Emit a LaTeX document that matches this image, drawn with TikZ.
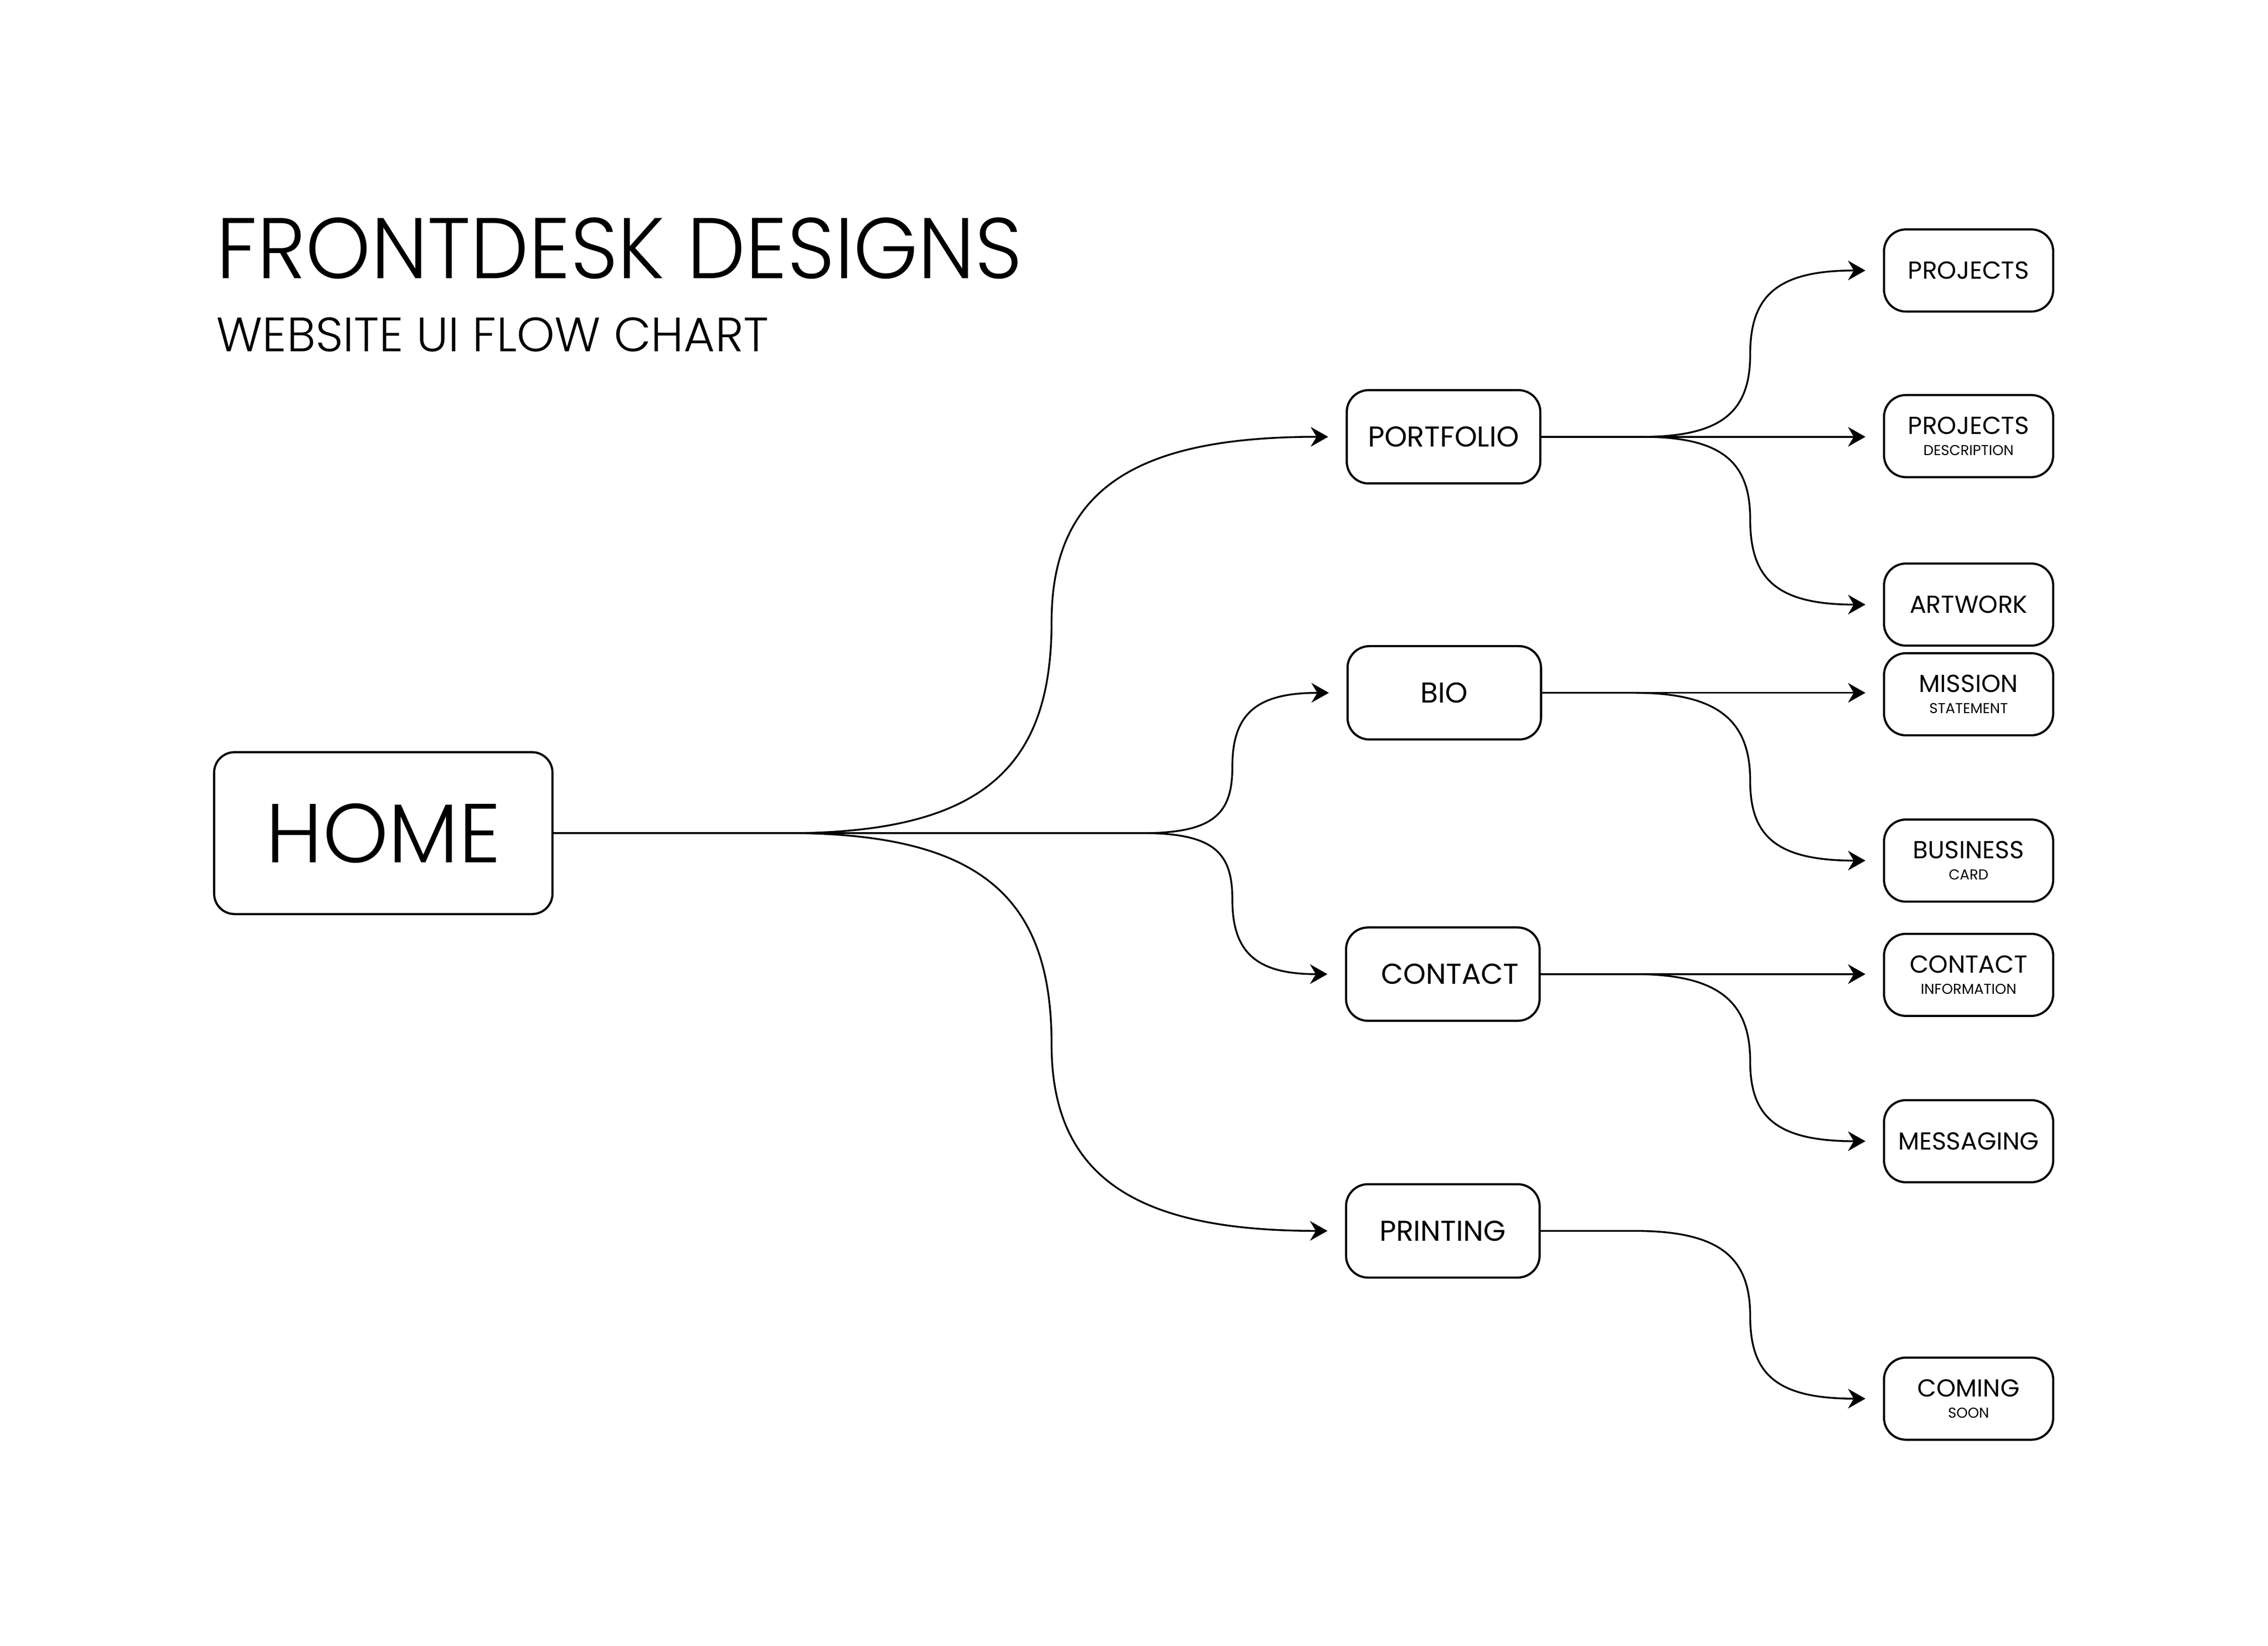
\documentclass[tikz,border=0pt]{standalone}
\usepackage{fontspec}
\setmainfont{Poppins}
\newfontfamily\thinfont{Poppins Light}
\newfontfamily\titlefont{Poppins Light}[FakeStretch=0.96]
\usepackage{tikz}
\usetikzlibrary{positioning,arrows.meta}
\newcommand{\smalltag}[1]{\\[-0.9pt]{\fontsize{2.8}{3}\selectfont #1}}

\begin{document}
\begin{tikzpicture}[
        x=0.009917cm, y=-0.009917cm,
        % Node styles
        homebox/.style={draw=black, line width=0.42pt, rounded corners=0.14cm, minimum width=2.32cm, minimum height=1.11cm, font=\thinfont\fontsize{16.3}{17}\selectfont},
        pagebox/.style={draw=black, line width=0.42pt, rounded corners=0.15cm, minimum width=1.327cm, minimum height=0.64cm, font=\fontsize{5.6}{6}\selectfont},
        leafbox/.style={draw=black, line width=0.42pt, rounded corners=0.15cm, minimum width=1.16cm, minimum height=0.563cm, inner sep=1pt, align=center, font=\fontsize{4.8}{5}\selectfont},
        link/.style={-{Stealth[length=0.12cm, width=0.135cm, inset=0.04cm]}, line width=0.35pt, shorten >=0.12cm}
    ]
    
    % Page frame
    \useasboundingbox (0,0) rectangle (1568,1138);
    
    % Title
    \node[anchor=base west, inner sep=0, font=\titlefont\fontsize{16.8}{18}\selectfont] (title) at (149,192.5) {FRONTDESK DESIGNS};
    \node[anchor=base west, inner sep=0, font=\thinfont\fontsize{9.4}{10}\selectfont] (subtitle) at (149,243) {WEBSITE UI FLOW CHART};
    
    % Home page
    \node[homebox] (home) at (265,576) {HOME\hspace{0.17cm}};
    
    % Main pages
    \node[pagebox] (portfolio) at (998,302) {PORTFOLIO};
    \node[pagebox] (bio) at (998.5,479) {BIO};
    \node[pagebox] (contact) at (997.5,673.5) {\hspace{0.1cm}CONTACT};
    \node[pagebox] (printing) at (997.5,851) {PRINTING};
    
    % Sub pages
    \node[leafbox] (projects) at (1361,187) {PROJECTS};
    \node[leafbox] (description) at (1361,301.5) {PROJECTS\smalltag{DESCRIPTION}};
    \node[leafbox] (artwork) at (1361,418) {ARTWORK};
    \node[leafbox] (mission) at (1361,480) {MISSION\smalltag{STATEMENT}};
    \node[leafbox] (business) at (1361,595) {BUSINESS\smalltag{CARD}};
    \node[leafbox] (information) at (1361,674) {CONTACT\smalltag{INFORMATION}};
    \node[leafbox] (messaging) at (1361,789) {MESSAGING};
    \node[leafbox] (coming) at (1361,967) {COMING\smalltag{SOON}};
    
    % Home to main pages
    \draw[link] (home.east) -- (545,576) .. controls (680,576) and (727,530) .. (727,430) .. controls (727,335) and (790,302) .. (portfolio.west);
    \draw[link] (home.east) -- (790,576) .. controls (840,576) and (852,562) .. (852,530) .. controls (852,494) and (868,479) .. (bio.west);
    \draw[link] (home.east) -- (790,576) .. controls (840,576) and (852,590) .. (852,622) .. controls (852,658) and (868,673.5) .. (contact.west);
    \draw[link] (home.east) -- (545,576) .. controls (680,576) and (727,622) .. (727,722) .. controls (727,817) and (790,851) .. (printing.west);
    
    % Portfolio
    \draw[link] (portfolio.east) -- (1135,302) .. controls (1190,302) and (1210,285) .. (1210,245) .. controls (1210,205) and (1228,187) .. (projects.west);
    \draw[link] (portfolio.east) -- (description.west |- portfolio.east);
    \draw[link] (portfolio.east) -- (1135,302) .. controls (1190,302) and (1210,319) .. (1210,359) .. controls (1210,400) and (1228,418) .. (artwork.west);
    
    % Bio
    \draw[link] (bio.east) -- (mission.west |- bio.east);
    \draw[link] (bio.east) -- (1130,479) .. controls (1190,479) and (1210,500) .. (1210,540) .. controls (1210,578) and (1228,595) .. (business.west);
    
    % Contact
    \draw[link] (contact.east) -- (information.west |- contact.east);
    \draw[link] (contact.east) -- (1130,673.5) .. controls (1190,673.5) and (1210,694) .. (1210,734) .. controls (1210,772) and (1228,789) .. (messaging.west);
    
    % Printing
    \draw[link] (printing.east) -- (1130,851) .. controls (1190,851) and (1210,870) .. (1210,910) .. controls (1210,950) and (1228,967) .. (coming.west);
    
    \end{tikzpicture}
\end{document}
